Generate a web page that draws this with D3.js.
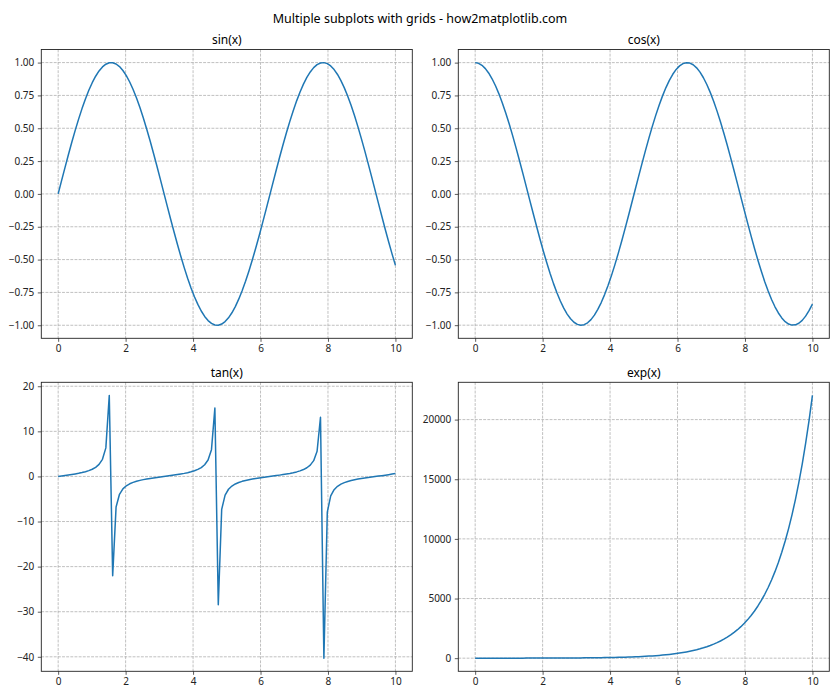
<!DOCTYPE html>
<html><head><meta charset="utf-8">
<script src="https://cdn.jsdelivr.net/npm/d3@7"></script>
<style>body{margin:0;background:#fff}svg{display:block}text{font-family:"Noto Sans","DejaVu Sans",sans-serif}</style>
</head><body><div id="chart"></div>
<script>
const xs = [0,0.1010,0.2020,0.3030,0.4040,0.5051,0.6061,0.7071,0.8081,0.9091,1.0101,1.1111,1.2121,1.3131,1.4141,1.5152,1.6162,1.7172,1.8182,1.9192,2.0202,2.1212,2.2222,2.3232,2.4242,2.5253,2.6263,2.7273,2.8283,2.9293,3.0303,3.1313,3.2323,3.3333,3.4343,3.5354,3.6364,3.7374,3.8384,3.9394,4.0404,4.1414,4.2424,4.3434,4.4444,4.5455,4.6465,4.7475,4.8485,4.9495,5.0505,5.1515,5.2525,5.3535,5.4545,5.5556,5.6566,5.7576,5.8586,5.9596,6.0606,6.1616,6.2626,6.3636,6.4646,6.5657,6.6667,6.7677,6.8687,6.9697,7.0707,7.1717,7.2727,7.3737,7.4747,7.5758,7.6768,7.7778,7.8788,7.9798,8.0808,8.1818,8.2828,8.3838,8.4848,8.5859,8.6869,8.7879,8.8889,8.9899,9.0909,9.1919,9.2929,9.3939,9.4949,9.5960,9.6970,9.7980,9.8990,10];
const sinY = [0,0.1008,0.2006,0.2984,0.3931,0.4839,0.5696,0.6496,0.7230,0.7890,0.8469,0.8962,0.9364,0.9670,0.9877,0.9985,0.9990,0.9893,0.9696,0.9399,0.9007,0.8523,0.7953,0.7301,0.6574,0.5780,0.4928,0.4026,0.3082,0.2107,0.1111,0.0103,-0.0906,-0.1905,-0.2885,-0.3837,-0.4749,-0.5611,-0.6418,-0.7159,-0.7826,-0.8414,-0.8916,-0.9327,-0.9643,-0.9861,-0.9978,-0.9994,-0.9908,-0.9720,-0.9434,-0.9051,-0.8577,-0.8014,-0.7371,-0.6651,-0.5864,-0.5018,-0.4120,-0.3180,-0.2208,-0.1213,-0.0206,0.0803,0.1804,0.2788,0.3742,0.4658,0.5526,0.6338,0.7086,0.7762,0.8357,0.8868,0.9290,0.9616,0.9843,0.9971,0.9997,0.9921,0.9744,0.9468,0.9095,0.8629,0.8075,0.7439,0.6728,0.5947,0.5106,0.4213,0.3277,0.2308,0.1315,0.0309,-0.0700,-0.1704,-0.2688,-0.3646,-0.4566,-0.5440];
const cosY = [1,0.9949,0.9797,0.9544,0.9195,0.8752,0.8219,0.7602,0.6909,0.6145,0.5318,0.4437,0.3510,0.2549,0.1561,0.0556,-0.0454,-0.1459,-0.2449,-0.3414,-0.4345,-0.5230,-0.6063,-0.6834,-0.7535,-0.8160,-0.8701,-0.9155,-0.9514,-0.9776,-0.9938,-0.9999,-0.9959,-0.9817,-0.9575,-0.9234,-0.8800,-0.8277,-0.7669,-0.6983,-0.6225,-0.5405,-0.4529,-0.3607,-0.2648,-0.1661,-0.0659,0.0351,0.1357,0.2349,0.3317,0.4251,0.5142,0.5981,0.6759,0.7467,0.8101,0.8650,0.9112,0.9481,0.9753,0.9926,0.9998,0.9968,0.9836,0.9604,0.9274,0.8849,0.8335,0.7734,0.7056,0.6306,0.5491,0.4621,0.3703,0.2746,0.1763,0.0761,-0.0248,-0.1255,-0.2249,-0.3220,-0.4158,-0.5054,-0.5897,-0.6683,-0.7399,-0.8039,-0.8598,-0.9069,-0.9448,-0.9730,-0.9913,-0.9995,-0.9975,-0.9854,-0.9632,-0.9311,-0.8897,-0.8391];
const tanY = [0,0.1013,0.2048,0.3127,0.4275,0.5529,0.6930,0.8545,1.0465,1.2840,1.5925,2.0198,2.668,3.794,6.327,17.96,-22.0,-6.78,-3.959,-2.753,-2.073,-1.630,-1.312,-1.068,-0.872,-0.708,-0.566,-0.440,-0.324,-0.216,-0.1118,-0.0103,0.0910,0.1941,0.3013,0.4155,0.5397,0.6779,0.8369,1.0252,1.2572,1.5567,1.967,2.586,3.642,5.937,15.15,-28.47,-7.30,-4.138,-2.844,-2.129,-1.668,-1.340,-1.0905,-0.8907,-0.7239,-0.5801,-0.4522,-0.3354,-0.2264,-0.1222,-0.0206,0.0806,0.1834,0.2903,0.4035,0.5264,0.6630,0.8195,1.0043,1.2309,1.5217,1.919,2.508,3.502,5.577,13.10,-40.3,-7.905,-4.333,-2.940,-2.187,-1.707,-1.369,-1.113,-0.9093,-0.7392,-0.5937,-0.4641,-0.3468,-0.2372,-0.1326,-0.0309,0.0702,0.1729,0.2791,0.3916,0.5132,0.6484];
const expY = [1,1.1063,1.2239,1.3540,1.4979,1.6571,1.8333,2.0282,2.2438,2.4823,2.7460,3.0377,3.3607,3.7180,4.1132,4.5505,5.0342,5.5694,6.1614,6.8163,7.5409,8.3425,9.2293,10.21,11.30,12.49,13.82,15.29,16.92,18.72,20.70,22.91,25.34,28.03,31.01,34.31,37.96,41.99,46.45,51.39,56.85,62.90,69.58,76.98,85.16,94.21,104.2,115.3,127.6,141.1,156.1,172.7,191.1,211.4,233.8,258.7,286.2,316.6,350.3,387.5,428.7,474.3,524.7,580.5,642.2,710.4,785.9,869.5,961.9,1064,1177,1302,1441,1594,1763,1951,2158,2388,2641,2922,3233,3576,3956,4377,4842,5357,5926,6556,7253,8024,8877,9820,10864,12019,13297,14710,16274,18004,19918,22026];

const xTicks = [0,2,4,6,8,10];
const trigTicks = [-1.00,-0.75,-0.50,-0.25,0.00,0.25,0.50,0.75,1.00];
const tanTicks = [-40,-30,-20,-10,0,10,20];
const expTicks = [0,5000,10000,15000,20000];
const titles = ["sin(x)","cos(x)","tan(x)","exp(x)"];
const mainTitle = "Multiple subplots with grids - how2matplotlib.com";

const W = 840, H = 700;
const svg = d3.select("#chart").append("svg").attr("width", W).attr("height", H);

svg.append("text").attr("x", W/2).attr("y", 23).attr("text-anchor","middle")
  .attr("font-size", 12.5).attr("fill","#000").text(mainTitle);

const panels = [
  {ys: sinY, ticks: trigTicks, fmt: d3.format(".2f"), box:[41.3,412.3,49.5,338.3]},
  {ys: cosY, ticks: trigTicks, fmt: d3.format(".2f"), box:[458.3,829.3,49.5,338.3]},
  {ys: tanY, ticks: tanTicks, fmt: d3.format("d"), box:[41.3,412.3,382.3,671.3]},
  {ys: expY, ticks: expTicks, fmt: d3.format("d"), box:[458.3,829.3,382.3,671.3]}
];

function minus(s){ return s.replace("-", "\u2212").replace("\u2212","-"); }

panels.forEach((p, k) => {
  const [l, r, t, b] = p.box;
  const x = d3.scaleLinear().domain([-0.5, 10.5]).range([l, r]);
  const ymin = d3.min(p.ys), ymax = d3.max(p.ys), m = (ymax - ymin) * 0.05;
  const y = d3.scaleLinear().domain([ymin - m, ymax + m]).range([b, t]);
  const g = svg.append("g");

  // grid
  g.append("g").selectAll("line").data(xTicks).join("line")
    .attr("x1", d => x(d)).attr("x2", d => x(d)).attr("y1", t).attr("y2", b)
    .attr("stroke","#b0b0b0").attr("stroke-width",0.8).attr("stroke-dasharray","2.9,1.25");
  g.append("g").selectAll("line").data(p.ticks).join("line")
    .attr("y1", d => y(d)).attr("y2", d => y(d)).attr("x1", l).attr("x2", r)
    .attr("stroke","#b0b0b0").attr("stroke-width",0.8).attr("stroke-dasharray","2.9,1.25");

  // line
  const line = d3.line().x((d,i) => x(xs[i])).y(d => y(d));
  g.append("path").datum(p.ys).attr("d", line).attr("fill","none")
    .attr("stroke","#1f77b4").attr("stroke-width",1.5).attr("stroke-linejoin","round");

  // axes
  const xa = g.append("g").attr("transform", `translate(0,${b})`)
    .call(d3.axisBottom(x).tickValues(xTicks).tickFormat(d3.format("d")).tickSize(3.5).tickPadding(3.5));
  const ya = g.append("g").attr("transform", `translate(${l},0)`)
    .call(d3.axisLeft(y).tickValues(p.ticks).tickFormat(p.fmt).tickSize(3.5).tickPadding(3.5));
  [xa, ya].forEach(a => {
    a.select(".domain").remove();
    a.selectAll(".tick line").attr("stroke","#333").attr("stroke-width",0.8);
    a.selectAll(".tick text").attr("font-size",10).attr("fill","#222")
      .attr("font-family",'"Noto Sans","DejaVu Sans",sans-serif');
  });

  // frame
  g.append("rect").attr("x", l).attr("y", t).attr("width", r - l).attr("height", b - t)
    .attr("fill","none").attr("stroke","#222").attr("stroke-width",0.9);

  g.append("text").attr("x", (l + r) / 2).attr("y", t - 5.5).attr("text-anchor","middle")
    .attr("font-size", 12).attr("fill","#000").text(titles[k]);
});
</script></body></html>
